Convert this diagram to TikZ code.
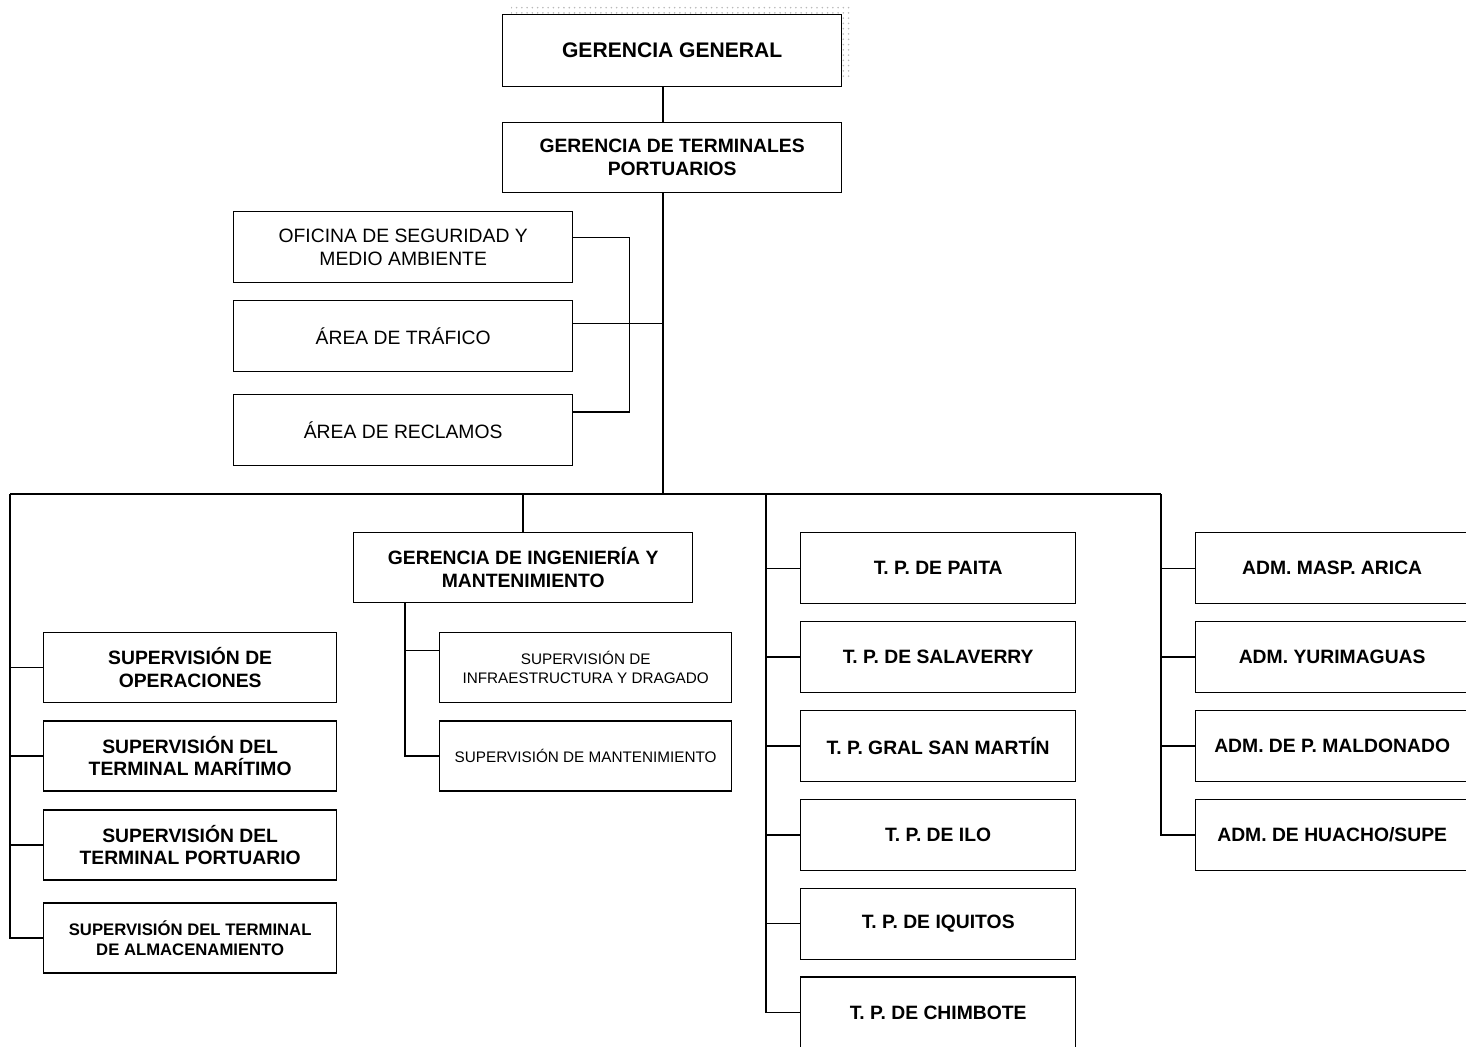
\documentclass[tikz,border=0pt]{standalone}
\usepackage{fontspec}
\setmainfont{Liberation Sans}
\usetikzlibrary{positioning,patterns}
\tikzset{
  caja/.style={draw,line width=0.8pt,fill=white,align=center,inner sep=2pt,anchor=north west,
               minimum height=1.4cm,font=\bfseries\fontsize{11}{13}\selectfont},
  oficina/.style={caja,font=\fontsize{11}{13}\selectfont},
  chica/.style={caja,font=\fontsize{8.7}{11}\selectfont},
  linea/.style={line width=0.8pt},
  sombra/.style={pattern=dots,pattern color=gray!55},
}
\begin{document}
\begin{tikzpicture}[x=0.02cm,y=-0.02cm]
  \useasboundingbox (0,0) rectangle (1466,1046);
  \clip (0,0) rectangle (1466,1046);
  % cabeza
  \fill[sombra] (511,5) rectangle (850,77);
  \node[caja,minimum width=6.78cm,minimum height=1.44cm,font=\bfseries\fontsize{12}{14}\selectfont] (gg) at (502,14) {GERENCIA GENERAL};
  \node[caja,minimum width=6.78cm] (gtp) at (502,122) {GERENCIA DE TERMINALES\\PORTUARIOS};
  % oficinas de apoyo
  \node[oficina,minimum width=6.78cm,minimum height=1.42cm] (osma) at (233,211) {OFICINA DE SEGURIDAD Y\\MEDIO AMBIENTE};
  \node[oficina,minimum width=6.78cm,minimum height=1.42cm,below=0.33cm of osma.south west,anchor=north west] (traf) {ÁREA DE TRÁFICO};
  \node[oficina,minimum width=6.78cm,minimum height=1.42cm,below=0.43cm of traf.south west,anchor=north west] (recl) {ÁREA DE RECLAMOS};
  \coordinate (bus) at (663,494);
  \coordinate (busI) at (10,494);
  \coordinate (busD) at (1161,494);
  % supervisiones (columna izquierda)
  \node[caja,minimum width=5.86cm] (so) at (43,632) {SUPERVISIÓN DE\\OPERACIONES};
  \node[caja,minimum width=5.86cm,below=0.34cm of so.south west,anchor=north west] (stm) {SUPERVISIÓN DEL\\TERMINAL MARÍTIMO};
  \node[caja,minimum width=5.86cm,below=0.35cm of stm.south west,anchor=north west] (stp) {SUPERVISIÓN DEL\\TERMINAL PORTUARIO};
  \node[caja,minimum width=5.86cm,below=0.43cm of stp.south west,anchor=north west,
        font=\bfseries\fontsize{9.5}{11.5}\selectfont] (sta) {SUPERVISIÓN DEL TERMINAL\\DE ALMACENAMIENTO};
  % ingenieria
  \node[caja,minimum width=6.78cm] (gim) at (353,532) {GERENCIA DE INGENIERÍA Y\\MANTENIMIENTO};
  \node[chica,minimum width=5.84cm] (sid) at (439,632) {SUPERVISIÓN DE\\INFRAESTRUCTURA Y DRAGADO};
  \node[chica,minimum width=5.84cm,below=0.34cm of sid.south west,anchor=north west] (sm) {SUPERVISIÓN DE MANTENIMIENTO};
  % terminales portuarios
  \node[caja,minimum width=5.5cm,minimum height=1.42cm] (paita) at (800,532) {T. P. DE PAITA};
  \node[caja,minimum width=5.5cm,minimum height=1.42cm,below=0.33cm of paita.south west,anchor=north west] (salav) {T. P. DE SALAVERRY};
  \node[caja,minimum width=5.5cm,minimum height=1.42cm,below=0.33cm of salav.south west,anchor=north west] (gsm) {T. P. GRAL SAN MARTÍN};
  \node[caja,minimum width=5.5cm,minimum height=1.42cm,below=0.33cm of gsm.south west,anchor=north west] (ilo) {T. P. DE ILO};
  \node[caja,minimum width=5.5cm,minimum height=1.42cm,below=0.33cm of ilo.south west,anchor=north west] (iqui) {T. P. DE IQUITOS};
  \node[caja,minimum width=5.5cm,minimum height=1.42cm,below=0.33cm of iqui.south west,anchor=north west] (chim) {T. P. DE CHIMBOTE};
  % administraciones
  \node[caja,minimum width=5.46cm,minimum height=1.42cm] (arica) at (1195,532) {ADM. MASP. ARICA};
  \node[caja,minimum width=5.46cm,minimum height=1.42cm,below=0.33cm of arica.south west,anchor=north west] (yuri) {ADM. YURIMAGUAS};
  \node[caja,minimum width=5.46cm,minimum height=1.42cm,below=0.33cm of yuri.south west,anchor=north west] (maldo) {ADM. DE P. MALDONADO};
  \node[caja,minimum width=5.46cm,minimum height=1.42cm,below=0.33cm of maldo.south west,anchor=north west] (huacho) {ADM. DE HUACHO/SUPE};
  % conectores
  \draw[linea] (gg.south -| bus) -- (gtp.north -| bus);
  \draw[linea] (gtp.south -| bus) -- (bus);
  \draw[linea] ([yshift=2mm]osma.east) -- ++(56,0) |- ([yshift=3.6mm]recl.east);
  \draw[linea] ([yshift=2.5mm]traf.east) -- ([yshift=2.5mm]traf.east -| bus);
  \draw[linea] (busI) -- (busD);
  \draw[linea] (busI) |- (sta.west);
  \foreach \n in {so,stm,stp} \draw[linea] (\n.west -| busI) -- (\n.west);
  \draw[linea] (gim.north) -- (gim.north |- bus);
  \draw[linea] ([xshift=10.4mm]gim.south west) |- (sm.west);
  \draw[linea] ([yshift=3.4mm]sid.west) -- ++(-34,0);
  \draw[linea] (busD -| 766,0) |- (chim.west);
  \foreach \n in {paita,salav,gsm,ilo,iqui} \draw[linea] (\n.west) -- ++(-34,0);
  \draw[linea] (busD) |- (huacho.west);
  \foreach \n in {arica,yuri,maldo} \draw[linea] (\n.west) -- ++(-34,0);
\end{tikzpicture}
\end{document}
